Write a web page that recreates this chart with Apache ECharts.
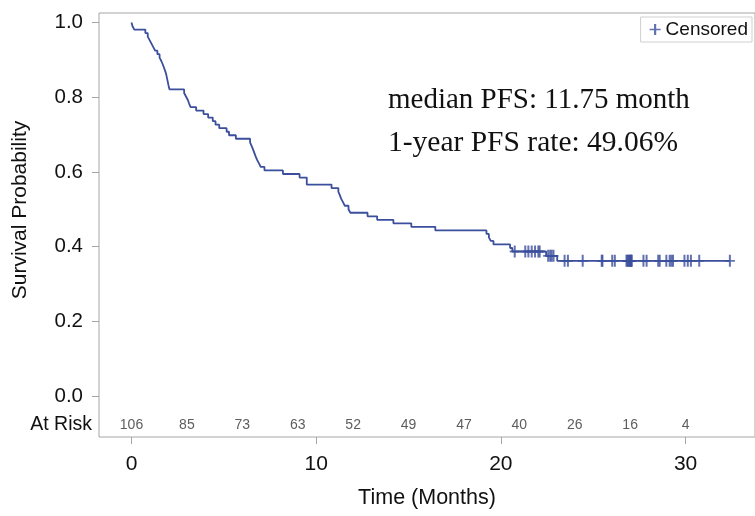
<!DOCTYPE html>
<html><head><meta charset="utf-8">
<script src="https://cdn.jsdelivr.net/npm/echarts@6/dist/echarts.min.js"></script>
<style>html,body{margin:0;padding:0;background:#fff}#c{width:755px;height:516px}</style>
</head><body><div id="c"></div>
<script>
// Kaplan-Meier step curve (time in months, survival probability)
const stepTimes = [0, 0.05, 0.15, 0.75, 0.88, 0.98, 1.08, 1.18, 1.28, 1.40, 1.52, 1.62, 1.70, 1.77, 1.84, 1.89, 1.93, 1.97, 2.01, 2.06, 2.85, 2.95, 3.05, 3.12, 3.20, 3.50, 3.90, 4.15, 4.40, 4.55, 4.75, 5.15, 5.28, 5.65, 6.42, 6.50, 6.58, 6.65, 6.72, 6.80, 6.90, 7.00, 7.20, 8.20, 9.10, 9.49, 10.83, 11.20, 11.28, 11.35, 11.45, 11.55, 11.75, 11.85, 12.78, 13.30, 14.18, 15.15, 16.45, 19.22, 19.35, 19.45, 19.60, 20.50, 20.62, 22.45, 23.05, 32.40];
const stepSurv = [1.0, 0.9906, 0.9811, 0.9717, 0.9623, 0.9528, 0.9434, 0.9340, 0.9245, 0.9151, 0.9057, 0.8962, 0.8868, 0.8774, 0.8679, 0.8585, 0.8491, 0.8396, 0.8302, 0.8208, 0.8113, 0.8019, 0.7925, 0.7830, 0.7736, 0.7642, 0.7547, 0.7453, 0.7358, 0.7264, 0.7170, 0.7075, 0.6981, 0.6887, 0.6792, 0.6698, 0.6604, 0.6509, 0.6415, 0.6321, 0.6226, 0.6132, 0.6038, 0.5943, 0.5849, 0.5660, 0.5566, 0.5472, 0.5377, 0.5283, 0.5189, 0.5094, 0.5000, 0.4906, 0.4811, 0.4717, 0.4623, 0.4528, 0.4434, 0.4340, 0.4245, 0.4151, 0.4057, 0.3962, 0.3868, 0.3754, 0.3620, 0.3620];
// Censored observations
const censorTimes = [20.75, 21.32, 21.49, 21.67, 21.85, 22.03, 22.10, 22.56, 22.67, 22.75, 22.85, 23.45, 23.63, 24.43, 25.46, 25.50, 26.03, 26.17, 26.80, 26.85, 26.90, 26.95, 26.98, 27.04, 27.05, 27.09, 27.72, 27.89, 28.52, 28.60, 28.96, 29.14, 29.23, 29.32, 29.94, 30.12, 30.29, 30.74, 32.40];
const censorSurv = [0.3868, 0.3868, 0.3868, 0.3868, 0.3868, 0.3868, 0.3868, 0.3754, 0.3754, 0.3754, 0.3754, 0.3620, 0.3620, 0.3620, 0.3620, 0.3620, 0.3620, 0.3620, 0.3620, 0.3620, 0.3620, 0.3620, 0.3620, 0.3620, 0.3620, 0.3620, 0.3620, 0.3620, 0.3620, 0.3620, 0.3620, 0.3620, 0.3620, 0.3620, 0.3620, 0.3620, 0.3620, 0.3620, 0.3620];
// Number at risk
const riskTimes = [0, 3, 6, 9, 12, 15, 18, 21, 24, 27, 30];
const riskCounts = [106, 85, 73, 63, 52, 49, 47, 40, 26, 16, 4];
const riskRowY = -0.0776;
// Ticks
const xTicks = [0, 10, 20, 30];
const yTicks = [0, 0.2, 0.4, 0.6, 0.8, 1.0];
const annotations = ['median PFS: 11.75 month', '1-year PFS rate: 49.06%'];

const FONT = '"Liberation Sans", Arial, sans-serif';
const LINE = '#3b4f9c';
const AXISC = '#a6a6a6';
const plus = 'path://M4,0h2v10h-2z M0,4.25h10v1.5h-10z';

const chart = echarts.init(document.getElementById('c'), null, {renderer: 'canvas'});
const option = {
  animation: false,
  backgroundColor: '#fff',
  grid: {left: 99, top: 13, right: -10, bottom: 79, show: true, borderColor: AXISC, borderWidth: 1},
  legend: {
    data: [{name: 'Censored', icon: plus}],
    right: 3, top: 17, padding: [3, 4, 3, 9],
    borderColor: '#cfcfcf', borderWidth: 1, backgroundColor: '#fff',
    itemWidth: 11, itemHeight: 11,
    textStyle: {fontFamily: FONT, fontSize: 19, color: '#111'}
  },
  xAxis: {
    type: 'value', min: -1.76, max: 33.76, position: 'bottom',
    axisLine: {show: false, onZero: false}, splitLine: {show: false},
    axisTick: {show: true, inside: false, customValues: xTicks, length: 7, lineStyle: {color: AXISC}},
    axisLabel: {customValues: xTicks, margin: 17, fontSize: 21, color: '#111', fontFamily: FONT},
    name: 'Time (Months)', nameLocation: 'middle', nameGap: 50,
    nameTextStyle: {fontSize: 21.5, color: '#111', fontFamily: FONT}
  },
  yAxis: [{
    type: 'value', min: -0.1098, max: 1.0254, position: 'left',
    axisLine: {show: false, onZero: false}, splitLine: {show: false},
    axisTick: {show: true, inside: false, customValues: yTicks, length: 7, lineStyle: {color: AXISC}},
    axisLabel: {customValues: yTicks, margin: 16, fontSize: 20.5, color: '#111', fontFamily: FONT,
      formatter: v => v.toFixed(1)}
  }, {
    type: 'value', min: -0.1098, max: 1.0254, position: 'left',
    axisLine: {show: false, onZero: false}, splitLine: {show: false}, axisTick: {show: false},
    axisLabel: {customValues: [riskRowY], margin: 7, fontSize: 19.5, color: '#111', fontFamily: FONT,
      formatter: () => 'At Risk'}
  }],
  graphic: [
    {type: 'text', x: 20, y: 210, rotation: Math.PI / 2,
     style: {text: 'Survival Probability', font: '21px "Liberation Sans", Arial', fill: '#111', align: 'center', verticalAlign: 'middle'}},
    {type: 'text', x: 388, y: 100,
     style: {text: annotations[0], font: '29px "Liberation Serif", "Times New Roman", serif', fill: '#111', align: 'left', verticalAlign: 'middle'}},
    {type: 'text', x: 388, y: 143,
     style: {text: annotations[1], font: '29.5px "Liberation Serif", "Times New Roman", serif', fill: '#111', align: 'left', verticalAlign: 'middle'}}
  ],
  series: [
    {
      type: 'line', name: 'PFS', step: 'end', showSymbol: false, symbol: 'none',
      data: stepTimes.map((t, i) => [t, stepSurv[i]]),
      lineStyle: {color: LINE, width: 1.8}, z: 3
    },
    {
      type: 'scatter', name: 'Censored', symbol: plus, symbolSize: [10, 12],
      data: censorTimes.map((t, i) => [t, censorSurv[i]]),
      itemStyle: {color: LINE}, z: 4
    },
    {
      type: 'scatter', name: 'risk', symbolSize: 0, itemStyle: {color: 'transparent'},
      data: riskTimes.map((t, i) => [t, riskRowY, riskCounts[i]]),
      label: {show: true, position: 'inside', formatter: p => String(p.value[2]),
        fontSize: 14, color: '#333', fontFamily: FONT},
      silent: true
    }
  ]
};
chart.setOption(option);
</script></body></html>
